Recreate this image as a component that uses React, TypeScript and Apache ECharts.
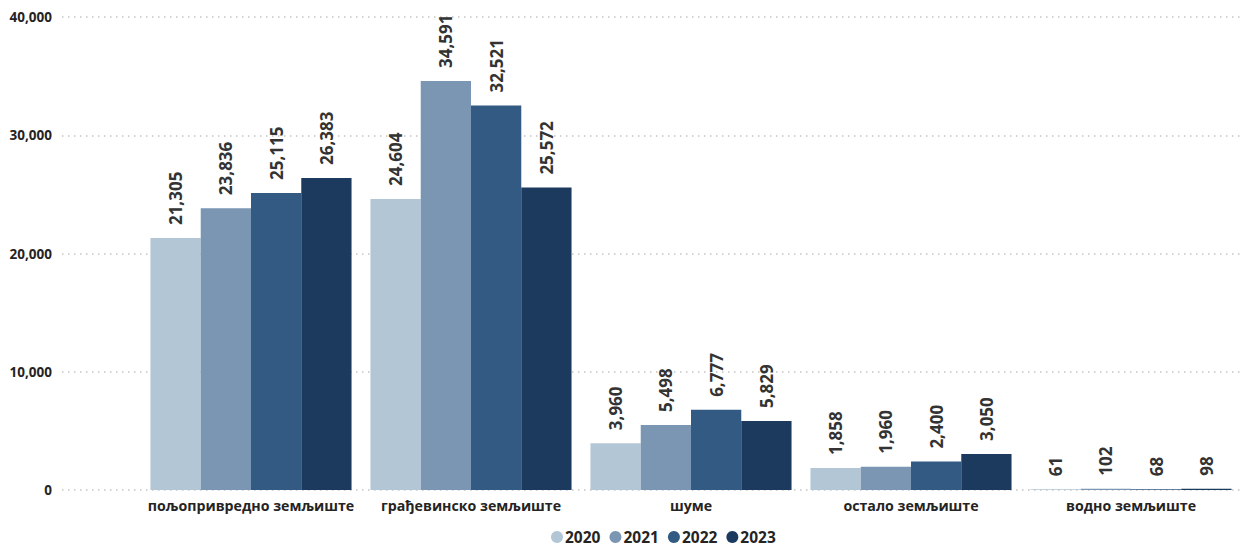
import React, { useEffect, useRef } from "react";
import * as echarts from "echarts";

const categories = [
  "пољопривредно земљиште",
  "грађевинско земљиште",
  "шуме",
  "остало земљиште",
  "водно земљиште",
];
const years = ["2020", "2021", "2022", "2023"];
const v2020 = [21305, 24604, 3960, 1858, 61];
const v2021 = [23836, 34591, 5498, 1960, 102];
const v2022 = [25115, 32521, 6777, 2400, 68];
const v2023 = [26383, 25572, 5829, 3050, 98];
const colors = ["#B3C6D6", "#7A96B3", "#325A82", "#1B3A5E"];
const yTicks = [0, 10000, 20000, 30000, 40000];

const FONT = "'Open Sans', 'Noto Sans', sans-serif";

export default function App() {
  const ref = useRef<HTMLDivElement>(null);
  useEffect(() => {
    if (!ref.current) return;
    const chart = echarts.init(ref.current, undefined, { renderer: "svg" });
    const values = [v2020, v2021, v2022, v2023];
    const fmt = (n: number) => n.toLocaleString("en-US");
    chart.setOption({
      animation: false,
      textStyle: { fontFamily: FONT },
      legend: {
        bottom: -3,
        left: 546,
        icon: "circle",
        itemWidth: 12,
        itemHeight: 12,
        itemGap: 9,
        data: years,
        textStyle: { fontFamily: FONT, fontSize: 15.5, fontWeight: "bold", color: "#252423", padding: [0, 0, 0, -3] },
      },
      grid: [
        { left: 141, right: 19, top: 17, bottom: 57 },
        { left: 62, right: 19, top: 17, bottom: 57 },
      ],
      xAxis: [
        {
          type: "category",
          gridIndex: 0,
          data: categories,
          axisLine: { show: false },
          axisTick: { show: false },
          axisLabel: { interval: 0, fontFamily: FONT, fontSize: 14.2, fontWeight: "bold", color: "#252423", margin: 8 },
        },
        { type: "category", gridIndex: 1, data: ["a"], show: false },
      ],
      yAxis: [
        {
          type: "value",
          gridIndex: 0,
          min: 0,
          max: 40000,
          interval: 10000,
          show: false,
          splitLine: { show: false },
        },
        {
          type: "value",
          gridIndex: 1,
          min: yTicks[0],
          max: yTicks[yTicks.length - 1],
          interval: 10000,
          axisLine: { show: false },
          axisTick: { show: false },
          axisLabel: {
            fontFamily: FONT,
            fontSize: 13.5,
            fontWeight: "bold",
            color: "#252423",
            margin: 10,
            formatter: (v: number) => fmt(v),
          },
          splitLine: { show: true, lineStyle: { type: [1.5, 4.5], color: "#c4c4c4", width: 1.5 } },
        },
      ],
      series: years.map((y, i) => ({
        name: y,
        type: "bar",
        xAxisIndex: 0,
        yAxisIndex: 0,
        data: values[i],
        barGap: "0%",
        barCategoryGap: "8.6%",
        itemStyle: { color: colors[i] },
        label: {
          show: true,
          position: "top",
          rotate: 90,
          align: "left",
          verticalAlign: "middle",
          distance: 13,
          fontFamily: FONT,
          fontSize: 17,
          fontWeight: "bold",
          color: "#333333",
          formatter: (p: any) => fmt(p.value),
        },
      })),
    });
    return () => chart.dispose();
  }, []);
  return <div ref={ref} style={{ width: 1260, height: 547, position: "absolute", left: 0, top: 0 }} />;
}
